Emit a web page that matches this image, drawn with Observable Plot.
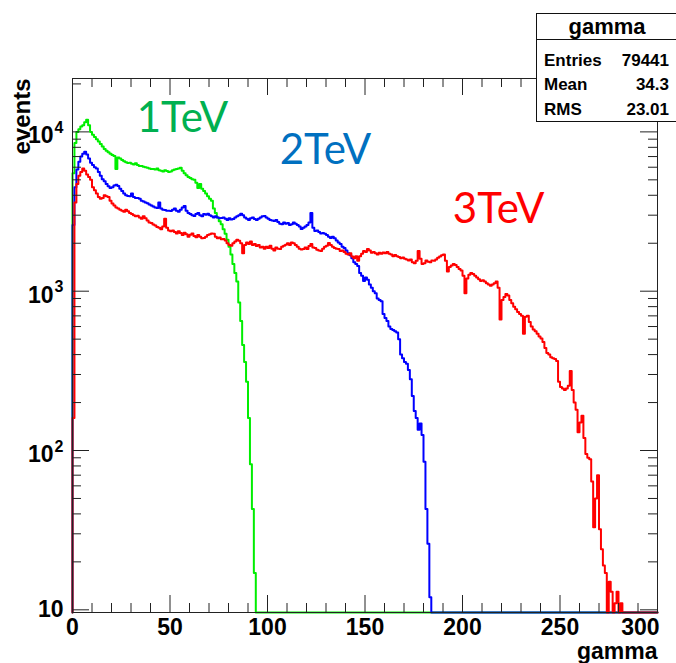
<!DOCTYPE html>
<html>
<head>
<meta charset="utf-8">
<script src="https://cdn.jsdelivr.net/npm/d3@7"></script>
<script src="https://cdn.jsdelivr.net/npm/@observablehq/plot@0.6"></script>
<style>
  html, body { margin: 0; padding: 0; background: #fff; overflow: hidden; }
  #wrap { position: relative; width: 676px; height: 663px; overflow: hidden; background: #fff; }
  #stats { position: absolute; left: 536px; top: 13px; width: 140px; height: 107px; border: 1px solid #111; background: #fff;
           font-family: "Liberation Sans", Arial, sans-serif; font-weight: bold; color: #000; box-sizing: content-box; }
  #stats .title { position: absolute; left: 0; top: 0; width: 140px; height: 25px; line-height: 25px; text-align: center; font-size: 22px; border-bottom: 1px solid #111; }
  #stats .row { position: absolute; left: 7px; width: 125px; font-size: 17px; line-height: 20px; }
  #stats .row span.v { position: absolute; right: 0; }
</style>
</head>
<body>
<div id="wrap"></div>
<script>
// ---------------- data (counts per 1-unit gamma bin, starting at gamma = 0) ----------------
const NBINS = 300;
const xTickLabels = [0, 50, 100, 150, 200, 250, 300];
const xMinorTicks = [10, 20, 30, 40, 60, 70, 80, 90, 110, 120, 130, 140, 160, 170, 180, 190, 210, 220, 230, 240, 260, 270, 280, 290];
const yTickValues = [10, 100, 1000, 10000];
const yTickExponents = ["", "2", "3", "4"];
const yMinorTicks = [20, 30, 40, 50, 60, 70, 80, 90, 200, 300, 400, 500, 600, 700, 800, 900,
                     2000, 3000, 4000, 5000, 6000, 7000, 8000, 9000, 20000];

const green1TeV = [
  5500, 8500, 10000, 10400, 10800, 11000, 11500, 11900, 11000, 10000,
  9600, 9300, 9000, 8700, 8400, 8100, 7800, 7600, 7450, 7300,
  7150, 7060, 5840, 6900, 6800, 6650, 6550, 6450, 6380, 6400,
  6300, 6250, 6350, 6200, 6100, 6100, 6050, 6000, 5950, 5900,
  5850, 5840, 5800, 5900, 5750, 5700, 5650, 5750, 5690, 5600,
  5650, 5750, 5800, 5850, 5900, 5950, 5700, 5500, 5350, 5200,
  5130, 5050, 5000, 4800, 4440, 4700, 4400, 4260, 4100, 3950,
  3800, 3690, 3300, 3100, 2900, 2750, 2630, 2450, 2290, 2100,
  1900, 1700, 1480, 1300, 1150, 850, 650, 460, 360, 270,
  160, 82, 43, 17
];

const blue2TeV = [
  2600, 4500, 5800, 6500, 7000, 7300, 7500, 7200, 6800, 6400,
  6200, 6000, 5900, 5600, 5300, 5050, 4900, 4700, 4550, 4440,
  4500, 4600, 4650, 4570, 4400, 4250, 4100, 4000, 3960, 3950,
  4100, 3900, 3850, 3840, 3800, 3700, 3650, 3600, 3570, 3500,
  3450, 3400, 3350, 3330, 3600, 3300, 3250, 3230, 3200, 3200,
  3190, 3250, 3300, 3200, 3150, 3250, 3350, 3420, 3200, 3100,
  3050, 3000, 2970, 3050, 3100, 3000, 2950, 3050, 3020, 3060,
  3000, 2950, 2900, 2950, 2900, 2870, 2880, 2900, 2850, 2800,
  2870, 2820, 2840, 2900, 2950, 3000, 3060, 3000, 2900, 2850,
  2800, 2870, 2900, 2840, 2800, 2850, 2900, 2950, 2970, 2900,
  2850, 2800, 2780, 2760, 2800, 2720, 2650, 2630, 2700, 2650,
  2680, 2600, 2630, 2700, 2650, 2600, 2550, 2460, 2500, 2550,
  2600, 2700, 3100, 2500, 2390, 2400, 2350, 2300, 2320, 2290,
  2250, 2200, 2160, 2200, 2150, 2080, 2020, 1980, 1900, 1870,
  1800, 1730, 1680, 1610, 1520, 1480, 1440, 1300, 1250, 1160,
  1220, 1180, 1100, 1050, 1000, 970, 900, 880, 866, 720,
  680, 650, 600, 580, 570, 560, 550, 500, 400, 380,
  360, 350, 320, 280, 220, 177, 160, 135, 148, 125,
  85, 43, 26, 12
];

const red3TeV = [
  160, 3600, 4700, 5300, 5600, 5900, 5700, 5400, 5200, 5000,
  4500, 4300, 4100, 3900, 3800, 3850, 4000, 3950, 3900, 3700,
  3550, 3450, 3350, 3300, 3250, 3200, 3150, 3250, 3180, 3100,
  3050, 3000, 2950, 2980, 2900, 2850, 2950, 2870, 2780, 2700,
  2680, 2620, 2580, 2530, 2500, 2450, 2550, 2850, 2500, 2400,
  2380, 2400, 2350, 2300, 2380, 2320, 2250, 2330, 2280, 2200,
  2260, 2300, 2220, 2180, 2250, 2200, 2150, 2160, 2200, 2250,
  2280, 2300, 2290, 2200, 2150, 2170, 2120, 2130, 2080, 2000,
  1950, 1930, 2000, 2050, 2100, 2070, 2000, 1730, 1950, 2020,
  1980, 2050, 1950, 1980, 1920, 1950, 1880, 1900, 1850, 1900,
  1870, 1930, 1850, 1800, 1880, 1850, 1840, 1900, 1930, 1960,
  2000, 1950, 2020, 2000, 1950, 1900, 1850, 1830, 1840, 1880,
  1840, 1920, 1980, 1880, 1870, 1820, 1800, 1790, 1850, 1900,
  1930, 2010, 1950, 1900, 1870, 1850, 1840, 1790, 1800, 1760,
  1720, 1700, 1730, 1650, 1610, 1660, 1550, 1660, 1720, 1790,
  1760, 1840, 1800, 1740, 1760, 1730, 1700, 1740, 1720, 1750,
  1730, 1760, 1720, 1700, 1660, 1690, 1660, 1640, 1610, 1630,
  1600, 1580, 1560, 1580, 1520, 1500, 1550, 1790, 1600, 1480,
  1500, 1560, 1530, 1520, 1560, 1550, 1580, 1620, 1650, 1680,
  1700, 1550, 1330, 1420, 1450, 1480, 1460, 1420, 1380, 1350,
  1250, 970, 1200, 1270, 1300, 1280, 1250, 1220, 1190, 1160,
  1170, 1150, 1120, 1100, 1080, 1100, 1120, 1150, 1050, 665,
  880, 920, 960, 940, 880, 840, 800, 770, 740, 720,
  700, 540, 690, 700, 640, 600, 575, 560, 540, 520,
  505, 480, 440, 410, 400, 385, 380, 375, 365, 270,
  250, 245, 240, 245, 255, 315, 240, 200, 180, 130,
  150, 165, 120, 95, 90, 88, 64, 33, 50, 70,
  32, 24, 19, 17, 0, 15, 13, 0, 11, 13,
  0, 11
];

const labels = [
  {text: "1TeV", gamma: 56.4, events: 12140, color: "#00B050"},
  {text: "2TeV", gamma: 129.7, events: 7640, color: "#0070C0"},
  {text: "3TeV", gamma: 218.5, events: 3260, color: "#FF0000"}
];
const stats = {title: "gamma", rows: [["Entries", "79441"], ["Mean", "34.3"], ["RMS", "23.01"]]};

// ---------------- chart ----------------
const yMin = 9.62, yMax = 21630;
const W = 676, H = 663, mL = 72, mR = 19, mT = 78, mB = 51;
const PW = W - mL - mR, PH = H - mT - mB;

function histPoints(counts, name) {
  const pts = [{name, x: 0, y: yMin}];
  let last = yMin;
  for (let i = 0; i < NBINS; i++) {
    const c = i < counts.length ? counts[i] : 0;
    last = Math.max(c, yMin);
    pts.push({name, x: i, y: last});
  }
  pts.push({name, x: NBINS, y: last});
  return pts;
}

const font = "'Liberation Sans', Arial, Helvetica, sans-serif";
const majLen = 17, minLen = 9;
const yPlain = yTickValues.filter((d, i) => yTickExponents[i] === "");
const yExp = yTickValues.filter((d, i) => yTickExponents[i] !== "");
const xInner = xTickLabels.slice(0, -1);
const xLast = xTickLabels.slice(-1);

const chart = Plot.plot({
  width: W, height: H,
  marginLeft: mL, marginRight: mR, marginTop: mT, marginBottom: mB,
  x: {domain: [0, 300], axis: null},
  y: {type: "log", domain: [yMin, yMax], axis: null},
  style: {fontFamily: font, background: "#fff", overflow: "visible"},
  marks: [
    Plot.line(histPoints(green1TeV, "1TeV"), {x: "x", y: "y", curve: "step-after", stroke: "#00ee00", strokeWidth: 2}),
    Plot.line(histPoints(blue2TeV, "2TeV"), {x: "x", y: "y", curve: "step-after", stroke: "#0000ff", strokeWidth: 2}),
    Plot.line(histPoints(red3TeV, "3TeV"), {x: "x", y: "y", curve: "step-after", stroke: "#ff0000", strokeWidth: 2}),
    Plot.frame({stroke: "#222", strokeWidth: 1}),
    // x ticks (bottom & top, inward)
    Plot.ruleX(xTickLabels, {x: d => d, insetTop: PH - majLen, stroke: "#222"}),
    Plot.ruleX(xMinorTicks, {x: d => d, insetTop: PH - minLen, stroke: "#222"}),
    Plot.ruleX(xTickLabels, {x: d => d, insetBottom: PH - majLen, stroke: "#222"}),
    Plot.ruleX(xMinorTicks, {x: d => d, insetBottom: PH - minLen, stroke: "#222"}),
    // y ticks (left & right, inward)
    Plot.ruleY(yTickValues, {y: d => d, insetRight: PW - majLen, stroke: "#222"}),
    Plot.ruleY(yMinorTicks, {y: d => d, insetRight: PW - minLen, stroke: "#222"}),
    Plot.ruleY(yTickValues, {y: d => d, insetLeft: PW - majLen, stroke: "#222"}),
    Plot.ruleY(yMinorTicks, {y: d => d, insetLeft: PW - minLen, stroke: "#222"}),
    // x tick labels
    Plot.text(xInner, {x: d => d, frameAnchor: "bottom", dy: 15, text: d => String(d),
      fontSize: 23, fontWeight: "bold", fill: "#000", lineAnchor: "middle"}),
    Plot.text(xLast, {x: d => d, frameAnchor: "bottom", dy: 15, dx: 2, textAnchor: "end", text: d => String(d),
      fontSize: 23, fontWeight: "bold", fill: "#000", lineAnchor: "middle"}),
    // y tick labels: base "10" and superscript exponent
    Plot.text(yPlain, {y: d => d, frameAnchor: "left", text: () => "10",
      dx: -9, dy: 0, textAnchor: "end", fontSize: 23, fontWeight: "bold", fill: "#000", lineAnchor: "middle"}),
    Plot.text(yExp, {y: d => d, frameAnchor: "left", text: () => "10",
      dx: -19, dy: 4, textAnchor: "end", fontSize: 23, fontWeight: "bold", fill: "#000", lineAnchor: "middle"}),
    Plot.text(yExp, {y: d => d, frameAnchor: "left",
      text: d => yTickExponents[yTickValues.indexOf(d)],
      dx: -18, dy: -4, textAnchor: "start", fontSize: 16, fontWeight: "bold", fill: "#000", lineAnchor: "middle"}),
    // axis titles
    Plot.text(["gamma"], {frameAnchor: "bottom-right", text: d => d, textAnchor: "end", lineAnchor: "bottom",
      dy: 46, fontSize: 23, fontWeight: "bold", fill: "#000"}),
    Plot.text(["events"], {frameAnchor: "top-left", text: d => d, rotate: -90, textAnchor: "end", lineAnchor: "middle",
      dx: -50, dy: 0, fontSize: 24, fontWeight: "bold", fill: "#000"}),
    // energy annotations
    Plot.text(labels, {x: "gamma", y: "events", text: "text", fill: "color", fontSize: 42,
      fontFamily: "Lato, 'Open Sans', sans-serif", textAnchor: "middle", lineAnchor: "middle"})
  ]
});

const wrap = document.getElementById("wrap");
wrap.appendChild(chart);

// stats box
const box = document.createElement("div");
box.id = "stats";
const t = document.createElement("div");
t.className = "title"; t.textContent = stats.title; box.appendChild(t);
const rowTops = [37, 61, 86];
stats.rows.forEach((r, i) => {
  const d = document.createElement("div");
  d.className = "row"; d.style.top = rowTops[i] + "px";
  const a = document.createElement("span"); a.textContent = r[0];
  const b = document.createElement("span"); b.className = "v"; b.textContent = r[1];
  d.appendChild(a); d.appendChild(b); box.appendChild(d);
});
wrap.appendChild(box);
</script>
</body>
</html>
